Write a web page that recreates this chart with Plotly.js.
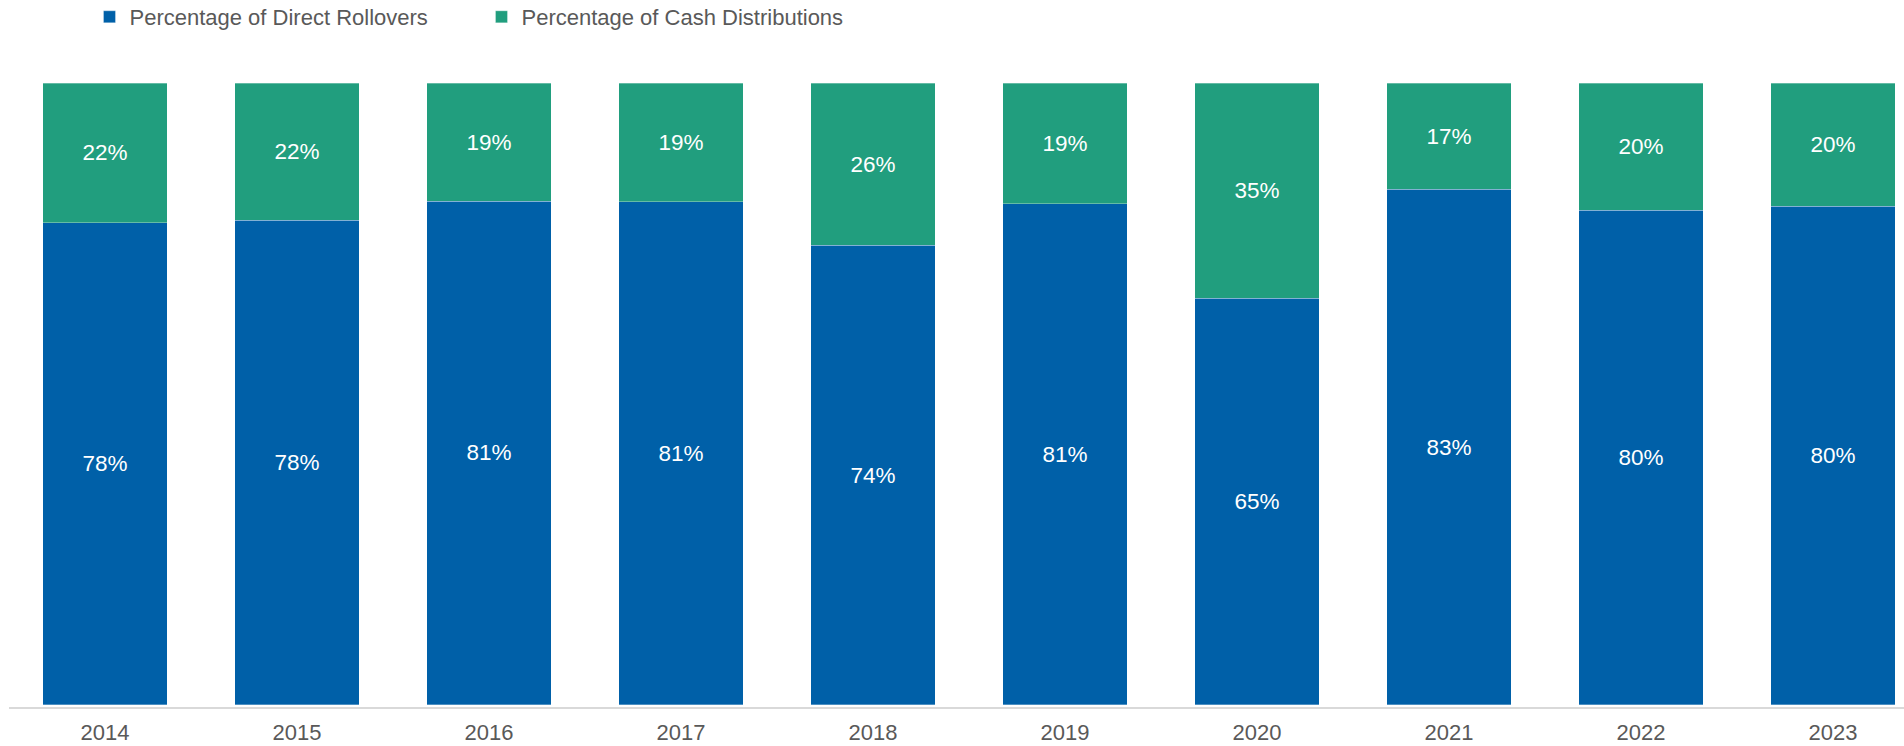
<!DOCTYPE html>
<html>
<head>
<meta charset="utf-8">
<script src="https://cdn.plot.ly/plotly-3.0.1.min.js"></script>
<style>
html,body{margin:0;padding:0;background:#fff;}
#chart{width:1904px;height:746px;}
</style>
</head>
<body>
<div id="chart"></div>
<script>
var years = ['2014','2015','2016','2017','2018','2019','2020','2021','2022','2023'];
var directRollovers = [77.5, 77.9, 81.0, 80.9, 73.9, 80.6, 65.4, 82.9, 79.5, 80.2];
var cashDistributions = [22.5, 22.1, 19.0, 19.1, 26.1, 19.4, 34.6, 17.1, 20.5, 19.8];
var directLabels = ['78%','78%','81%','81%','74%','81%','65%','83%','80%','80%'];
var cashLabels = ['22%','22%','19%','19%','26%','19%','35%','17%','20%','20%'];

var FONT = '"Liberation Sans", Arial, sans-serif';
var BLUE = '#0060a8';
var GREEN = '#219e7e';

var traces = [
  {
    type: 'bar', name: 'Percentage of Direct Rollovers',
    x: years, y: directRollovers, text: directLabels,
    textposition: 'inside', insidetextanchor: 'middle', textangle: 0,
    texttemplate: '%{text}',
    textfont: {family: FONT, size: 22.5, color: '#ffffff'},
    marker: {color: BLUE, line: {color: 'rgba(255,255,255,0.3)', width: 1}},
    hoverinfo: 'x+y'
  },
  {
    type: 'bar', name: 'Percentage of Cash Distributions',
    x: years, y: cashDistributions, text: cashLabels,
    textposition: 'inside', insidetextanchor: 'middle', textangle: 0,
    texttemplate: '%{text}',
    textfont: {family: FONT, size: 22.5, color: '#ffffff'},
    marker: {color: GREEN, line: {color: 'rgba(255,255,255,0.3)', width: 1}},
    hoverinfo: 'x+y'
  }
];

var layout = {
  width: 1904, height: 746,
  barmode: 'stack',
  bargap: 0.35,
  paper_bgcolor: '#ffffff', plot_bgcolor: '#ffffff',
  font: {family: FONT, size: 22, color: '#595959'},
  margin: {l: 9, r: 0, t: 83, b: 39, pad: 0},
  xaxis: {
    type: 'category',
    range: [-0.5, 9.37],
    showgrid: false, zeroline: false,
    showline: true, linecolor: '#d9d9d9', linewidth: 1.5,
    ticks: '', ticklabelstandoff: 5,
    tickfont: {family: FONT, size: 22, color: '#595959'},
    fixedrange: true
  },
  yaxis: {
    range: [-0.35, 100],
    visible: false, showgrid: false, zeroline: false,
    fixedrange: true
  },
  showlegend: true,
  legend: {
    orientation: 'h',
    xref: 'container', yref: 'container',
    x: 0.047, xanchor: 'left',
    y: 1, yanchor: 'top',
    traceorder: 'normal',
    entrywidth: 347, entrywidthmode: 'pixels',
    font: {family: FONT, size: 22, color: '#595959'},
    bgcolor: 'rgba(0,0,0,0)'
  }
};

Plotly.newPlot('chart', traces, layout, {displayModeBar: false}).then(function(){
  // nudge legend up a few pixels to match reference
  var lg = document.querySelector('.legend');
  if (lg) {
    var t = lg.getAttribute('transform') || '';
    var m = t.match(/translate\(([-\d.]+),\s*([-\d.]+)\)/);
    if (m) lg.setAttribute('transform', 'translate(' + m[1] + ',' + (parseFloat(m[2]) - 4) + ')');
  }
});
</script>
</body>
</html>
